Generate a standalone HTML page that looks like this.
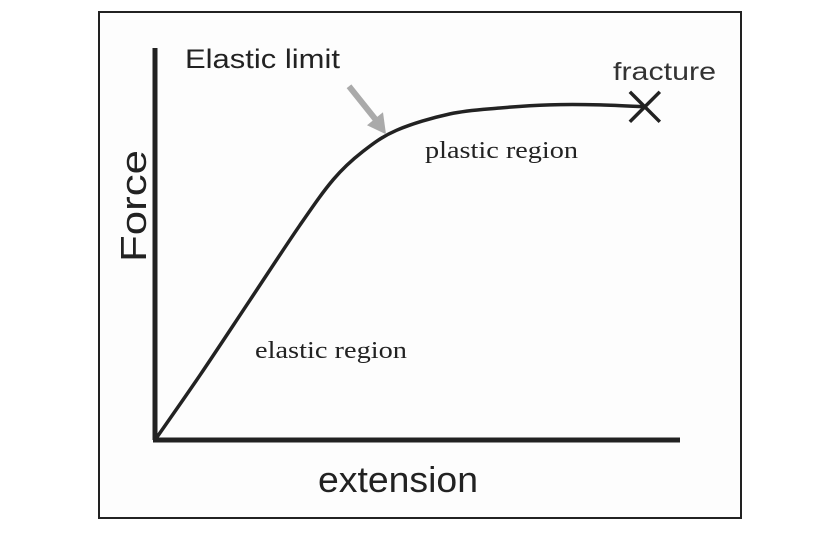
<!DOCTYPE html>
<html><head><meta charset="utf-8"><style>
html,body{margin:0;padding:0;background:#fff;}
svg{display:block;font-family:"Liberation Sans",sans-serif;}
</style></head><body>
<svg width="840" height="544" viewBox="0 0 840 544">
<rect x="99" y="12" width="642" height="506" fill="#fdfdfd" stroke="#222" stroke-width="2"/>
<g id="plot"></g>
</svg>
<script>
const extension = [0, 0.86, 1.81, 2.76, 3.4, 3.95, 4.6, 5.62, 6.57, 7.52, 8.48, 9.33];
const force = [0, 1.66, 3.57, 5.48, 6.65, 7.35, 7.9, 8.32, 8.47, 8.55, 8.55, 8.5];
const fracturePoint = [9.33, 8.5];
const elasticLimit = [4.4, 7.8];

const X0=155, X1=680, Y0=440, Y1=48;
const sx = v => X0 + v*(X1-X0)/10;
const sy = v => Y0 - v*(Y0-Y1)/10;
const NS="http://www.w3.org/2000/svg";
const g=document.getElementById('plot');
function mk(tag, attrs){const e=document.createElementNS(NS,tag);for(const k in attrs)e.setAttribute(k,attrs[k]);g.appendChild(e);return e;}

let a=mk('line',{x1:X0,y1:Y1,x2:X0,y2:Y0,stroke:'#222','stroke-width':5});


a=mk('line',{x1:X0-2,y1:Y0,x2:X1,y2:Y0,stroke:'#222','stroke-width':5});



const pts=extension.map((v,i)=>[sx(v),sy(force[i])]);
let d='M'+pts[0][0]+','+pts[0][1];
for(let i=0;i<pts.length-1;i++){
  const p0=pts[i-1]||pts[i],p1=pts[i],p2=pts[i+1],p3=pts[i+2]||p2;
  const c1=[p1[0]+(p2[0]-p0[0])/6,p1[1]+(p2[1]-p0[1])/6];
  const c2=[p2[0]-(p3[0]-p1[0])/6,p2[1]-(p3[1]-p1[1])/6];
  d+=' C'+c1+' '+c2+' '+p2;
}
const c=mk('path',{d:d,fill:'none',stroke:'#222','stroke-width':3.5});



const fx=sx(fracturePoint[0]), fy=sy(fracturePoint[1]);
const xg=mk('path',{d:`M${fx-15},${fy-15}L${fx+15},${fy+15}M${fx+15},${fy-15}L${fx-15},${fy+15}`,stroke:'#222','stroke-width':3.5});



const ax=sx(elasticLimit[0]), ay=sy(elasticLimit[1]);
const ar=mk('path',{d:`M${ax-37},${ay-48} L${ax-9},${ay-13}`,stroke:'#aaa','stroke-width':6});


const ah=mk('polygon',{points:`${ax},${ay} ${ax-19},${ay-9} ${ax-3},${ay-22}`,fill:'#aaa'});



function txt(s,x,y,size,len,name,extra){const t=mk('text',Object.assign({x:x,y:y,'font-size':size,fill:'#222',textLength:len,lengthAdjust:'spacingAndGlyphs'},extra||{}));t.textContent=s;


return t;}
txt('Elastic limit',185,68,27,155,'elastic-limit-label');
txt('fracture',613,80,25,103,'fracture-label',{fill:'#333'});
txt('plastic region',425,158,24,153,'plastic-region-label',{'font-family':'Liberation Serif'});
txt('elastic region',255,358,24,152,'elastic-region-label',{'font-family':'Liberation Serif'});
txt('extension',318,492,36,160,'x-axis-title');
txt('Force',146,262,36,112,'y-axis-title',{transform:'rotate(-90 146 262)'});
</script>
</body></html>
